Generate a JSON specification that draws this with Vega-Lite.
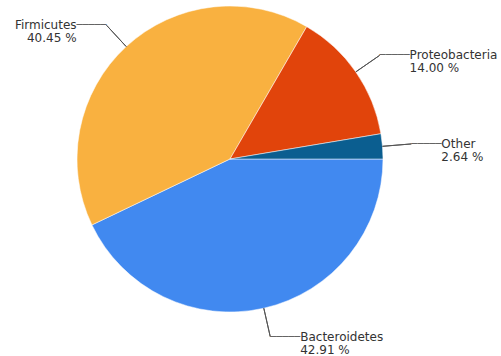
{
  "$schema": "https://vega.github.io/schema/vega-lite/v6.json",
  "width": 460,
  "height": 318,
  "autosize": "none",
  "padding": {"left": 0, "top": 0, "right": 41, "bottom": 38},
  "background": "white",
  "config": {"view": {"stroke": null}, "text": {"font": "DejaVu Sans"}},
  "data": {
    "values": [
      {"name": "Bacteroidetes", "value": 42.91, "rank": 1, "label": "Bacteroidetes\n42.91 %"},
      {"name": "Firmicutes", "value": 40.45, "rank": 2, "label": "Firmicutes\n40.45 %"},
      {"name": "Proteobacteria", "value": 14.00, "rank": 3, "label": "Proteobacteria\n14.00 %"},
      {"name": "Other", "value": 2.64, "rank": 4, "label": "Other\n2.64 %"}
    ]
  },
  "encoding": {
    "theta": {"field": "value", "type": "quantitative", "stack": true, "scale": {"range": [1.5707963, 7.8539816]}},
    "order": {"field": "rank", "type": "quantitative"}
  },
  "layer": [
    {
      "mark": {"type": "arc", "outerRadius": 153, "stroke": "#ffffff", "strokeWidth": 0.5},
      "encoding": {
        "color": {
          "field": "name", "type": "nominal", "legend": null,
          "scale": {"domain": ["Bacteroidetes", "Firmicutes", "Proteobacteria", "Other"], "range": ["#4189f0", "#f9b140", "#e1440b", "#0b5e90"]}
        }
      }
    },
    {
      "mark": {"type": "arc", "innerRadius": 153, "outerRadius": 182, "padAngle": 3.14159, "fill": null, "stroke": "#555555", "strokeWidth": 1}
    },
    {
      "mark": {"type": "text", "radius": 182, "align": "left", "baseline": "middle", "fontSize": 10, "color": "#555555"},
      "encoding": {
        "text": {"condition": {"test": "datum.name == 'Firmicutes'", "value": ""}, "value": "─────"}
      }
    },
    {
      "mark": {"type": "text", "radius": 182, "align": "right", "baseline": "middle", "fontSize": 10, "color": "#555555"},
      "encoding": {
        "text": {"condition": {"test": "datum.name == 'Firmicutes'", "value": "─────"}, "value": ""}
      }
    },
    {
      "mark": {"type": "text", "radius": 182, "dx": 30, "align": "left", "baseline": "middle", "fontSize": 12, "lineHeight": 13, "lineBreak": "\n", "color": "#333333"},
      "encoding": {
        "text": {"condition": {"test": "datum.name == 'Firmicutes'", "value": ""}, "field": "label"}
      }
    },
    {
      "mark": {"type": "text", "radius": 182, "dx": -30, "align": "right", "baseline": "middle", "fontSize": 12, "lineHeight": 13, "lineBreak": "\n", "color": "#333333"},
      "encoding": {
        "text": {"condition": {"test": "datum.name == 'Firmicutes'", "field": "label"}, "value": ""}
      }
    }
  ]
}
